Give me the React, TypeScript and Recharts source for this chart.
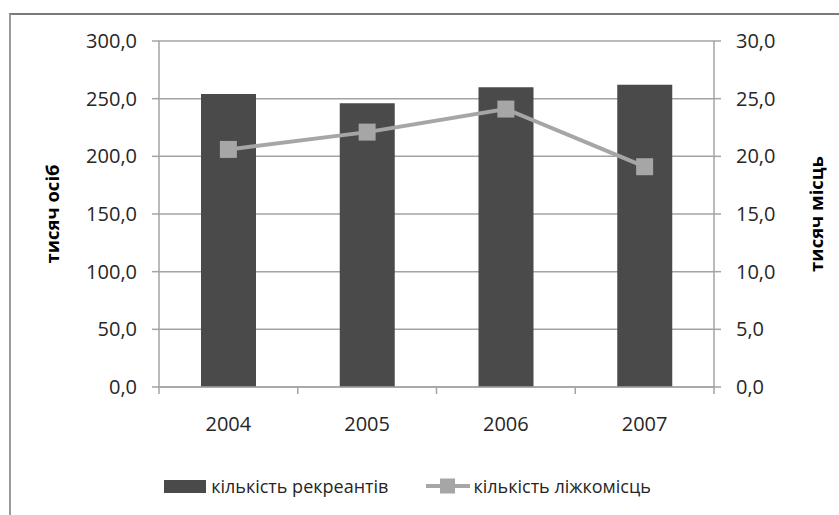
import React from 'react';
import {
  ComposedChart,
  Bar,
  Line,
  XAxis,
  YAxis,
  CartesianGrid,
  Legend,
  Label,
} from 'recharts';

// роки
const years = ['2004', '2005', '2006', '2007'];
// кількість рекреантів, тис. осіб
const recreants = [254, 246, 260, 262];
// кількість ліжкомісць, тис. місць
const beds = [20.6, 22.1, 24.1, 19.1];

const leftTicks = [0, 50, 100, 150, 200, 250, 300];
const rightTicks = [0, 5, 10, 15, 20, 25, 30];

const barName = 'кількість рекреантів';
const lineName = 'кількість ліжкомісць';
const leftTitle = 'тисяч осіб';
const rightTitle = 'тисяч місць';

const data = years.map((year, i) => ({
  year,
  recreants: recreants[i],
  beds: beds[i],
}));

const FONT = '"Open Sans", sans-serif';
const GRID = '#a3a3a3';
const BAR = '#4a4a4a';
const LINE = '#a6a6a6';
const TEXT = '#262626';
const TICK = 7;
const X_GAP = 23;

const fmt = (v: number) => v.toFixed(1).replace('.', ',');

// Excel-style: tick marks sit between categories, labels in the middle
const XTick = (props: any) => {
  const { x, y, payload, index } = props;
  const half = payload.offset || 0;
  const top = y - X_GAP - TICK;
  return (
    <g>
      <line x1={x - half} x2={x - half} y1={top} y2={top + TICK} stroke={GRID} strokeWidth={1.5} />
      {index === years.length - 1 && (
        <line x1={x + half} x2={x + half} y1={top} y2={top + TICK} stroke={GRID} strokeWidth={1.5} />
      )}
      <text x={x} y={y} dy="0.71em" textAnchor="middle" fill={TEXT} fontSize={20} fontFamily={FONT}>
        {payload.value}
      </text>
    </g>
  );
};

const SquareDot = (props: any) => {
  const { cx, cy, index } = props;
  if (cx == null || cy == null) return <g key={index} />;
  return <rect key={index} x={cx - 8.5} y={cy - 8.5} width={17} height={17} fill={LINE} />;
};

const axisTitle = (text: string, dx: number) => (props: any) => {
  const vb = props.viewBox || {};
  const cx = vb.x + dx;
  const cy = vb.y + vb.height / 2;
  return (
    <text
      x={cx}
      y={cy}
      transform={`rotate(-90 ${cx} ${cy})`}
      textAnchor="middle"
      dominantBaseline="central"
      fontFamily={FONT}
      fontSize={18.5}
      fontWeight="bold"
      fill="#000"
    >
      {text}
    </text>
  );
};

const renderLegend = () => (
  <div
    style={{
      height: 30,
      display: 'flex',
      alignItems: 'center',
      justifyContent: 'center',
      marginLeft: -24,
      fontFamily: FONT,
      fontSize: 18,
      color: TEXT,
    }}
  >
    <div style={{ display: 'flex', alignItems: 'center', marginRight: 38 }}>
      <span style={{ width: 42, height: 13, background: BAR, marginRight: 5, display: 'inline-block' }} />
      <span>{barName}</span>
    </div>
    <div style={{ display: 'flex', alignItems: 'center' }}>
      <svg width={44} height={18} style={{ marginRight: 3 }}>
        <line x1={0} x2={44} y1={9} y2={9} stroke={LINE} strokeWidth={4} />
        <rect x={14} y={1.5} width={15} height={15} fill={LINE} />
      </svg>
      <span>{lineName}</span>
    </div>
  </div>
);

export default function App() {
  return (
    <div
      style={{
        position: 'absolute',
        left: 0,
        top: 0,
        width: 839,
        height: 515,
        overflow: 'hidden',
        background: '#fff',
      }}
    >
      <div
        style={{
          position: 'absolute',
          left: 9,
          top: 13,
          width: 1000,
          height: 1000,
          borderTop: '2px solid #7a7a7a',
          borderLeft: '2px solid #9a9a9a',
        }}
      />
      <div style={{ position: 'absolute', left: 0, top: 0 }}>
        <ComposedChart
          width={839}
          height={515}
          data={data}
          margin={{ top: 41, right: 20, bottom: 48, left: 10 }}
          barCategoryGap="30%"
        >
          <CartesianGrid yAxisId="left" vertical={false} stroke={GRID} strokeWidth={1.5} />
          <XAxis
            dataKey="year"
            height={50}
            tickSize={TICK}
            tickMargin={X_GAP}
            tickLine={false}
            axisLine={{ stroke: GRID, strokeWidth: 1.5 }}
            tick={<XTick />}
            interval={0}
          />
          <YAxis
            yAxisId="left"
            width={149}
            domain={[0, 300]}
            ticks={leftTicks}
            tickFormatter={fmt}
            tickSize={TICK}
            tickMargin={15}
            axisLine={{ stroke: GRID, strokeWidth: 1.5 }}
            tickLine={{ stroke: GRID, strokeWidth: 1.5 }}
            tick={{ fill: TEXT, fontSize: 20, fontFamily: FONT }}
          >
            <Label content={axisTitle(leftTitle, 41)} />
          </YAxis>
          <YAxis
            yAxisId="right"
            orientation="right"
            width={105}
            domain={[0, 30]}
            ticks={rightTicks}
            tickFormatter={fmt}
            tickSize={TICK}
            tickMargin={15}
            axisLine={{ stroke: GRID, strokeWidth: 1.5 }}
            tickLine={{ stroke: GRID, strokeWidth: 1.5 }}
            tick={{ fill: TEXT, fontSize: 20, fontFamily: FONT }}
          >
            <Label content={axisTitle(rightTitle, 101)} />
          </YAxis>
          <Legend
            verticalAlign="bottom"
            wrapperStyle={{ top: 471, left: 0, width: 839 }}
            content={renderLegend}
          />
          <Bar
            yAxisId="left"
            dataKey="recreants"
            name={barName}
            fill={BAR}
            barSize={55}
            isAnimationActive={false}
          />
          <Line
            yAxisId="right"
            dataKey="beds"
            name={lineName}
            stroke={LINE}
            strokeWidth={4}
            dot={SquareDot}
            activeDot={false}
            isAnimationActive={false}
          />
        </ComposedChart>
      </div>
    </div>
  );
}
